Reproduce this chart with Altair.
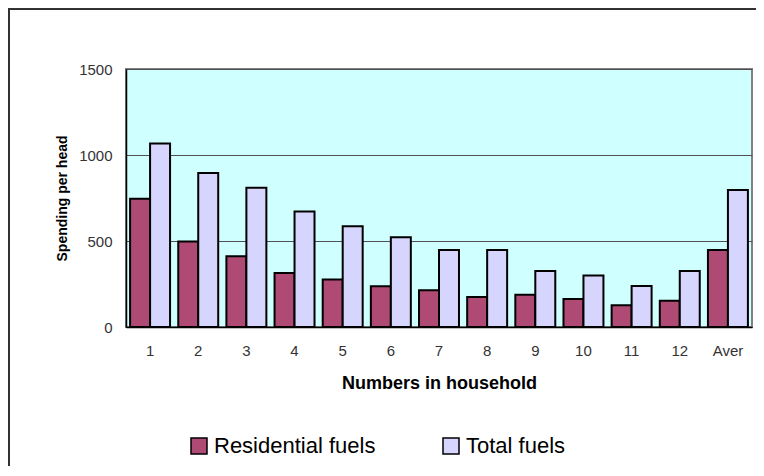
import altair as alt
import pandas as pd

categories = ["1", "2", "3", "4", "5", "6", "7", "8", "9", "10", "11", "12", "Aver"]
residential = [745, 497, 411, 314, 276, 237, 213, 175, 188, 163, 126, 153, 448]
total = [1067, 895, 809, 671, 586, 522, 448, 448, 326, 299, 239, 326, 796]
series = ["Residential fuels", "Total fuels"]
colors = ["#AE4A74", "#D5D5FD"]

rows = []
for c, r, t in zip(categories, residential, total):
    rows.append({"cat": c, "series": series[0], "value": r})
    rows.append({"cat": c, "series": series[1], "value": t})
df = pd.DataFrame(rows)

FONT = "Liberation Sans"

bars = alt.Chart(df).mark_bar(stroke="black", strokeWidth=2).encode(
    x=alt.X(
        "cat:N",
        sort=categories,
        scale=alt.Scale(paddingInner=0.17, paddingOuter=0.085),
        axis=alt.Axis(
            title="Numbers in household",
            labelAngle=0,
            ticks=False,
            labelPadding=16,
            labelFontSize=15,
            labelColor="#333333",
            labelFont=FONT,
            titleFont=FONT,
            titleFontSize=18,
            titleFontWeight="bold",
            titleColor="#000000",
            titlePadding=16,
            domainColor="#000000",
            domainWidth=1.5,
        ),
    ),
    xOffset=alt.XOffset("series:N", sort=series),
    y=alt.Y(
        "value:Q",
        scale=alt.Scale(domain=[0, 1500], nice=False),
        axis=alt.Axis(
            title="Spending per head",
            values=[0, 500, 1000, 1500],
            format="d",
            ticks=False,
            labelPadding=14,
            labelFontSize=15,
            labelColor="#333333",
            labelFont=FONT,
            titleFont=FONT,
            titleFontSize=14,
            titleFontWeight="bold",
            titleColor="#000000",
            titlePadding=9,
            grid=True,
            gridColor="#505050",
            gridWidth=1,
            domainColor="#000000",
            domainWidth=1.5,
        ),
    ),
    fill=alt.Fill(
        "series:N",
        sort=series,
        scale=alt.Scale(domain=series, range=colors),
        legend=alt.Legend(
            title=None,
            orient="none",
            legendX=62,
            legendY=366,
            direction="horizontal",
            columns=2,
            columnPadding=64,
            symbolType="square",
            symbolSize=256,
            symbolStrokeColor="black",
            symbolStrokeWidth=1.5,
            labelFont=FONT,
            labelFontSize=22,
            labelColor="#000000",
            labelOffset=4,
            labelLimit=300,
        ),
    ),
)

frame = alt.Chart(df).mark_rect(
    fillOpacity=0, stroke="#333333", strokeWidth=1.5
).encode(
    x=alt.value(-117), x2=alt.value(700), y=alt.value(-60.5), y2=alt.value(600)
)

chart = alt.layer(frame, bars).properties(
    width=626,
    height=258,
    autosize=alt.AutoSizeParams(type="none"),
    padding={"left": 118, "top": 61, "right": 4, "bottom": 139},
    background="white",
).configure_view(
    fill="#D0FFFF", stroke="#808080", strokeWidth=2
)

chart.save("out.html", embed_options={"renderer": "svg", "actions": False})
